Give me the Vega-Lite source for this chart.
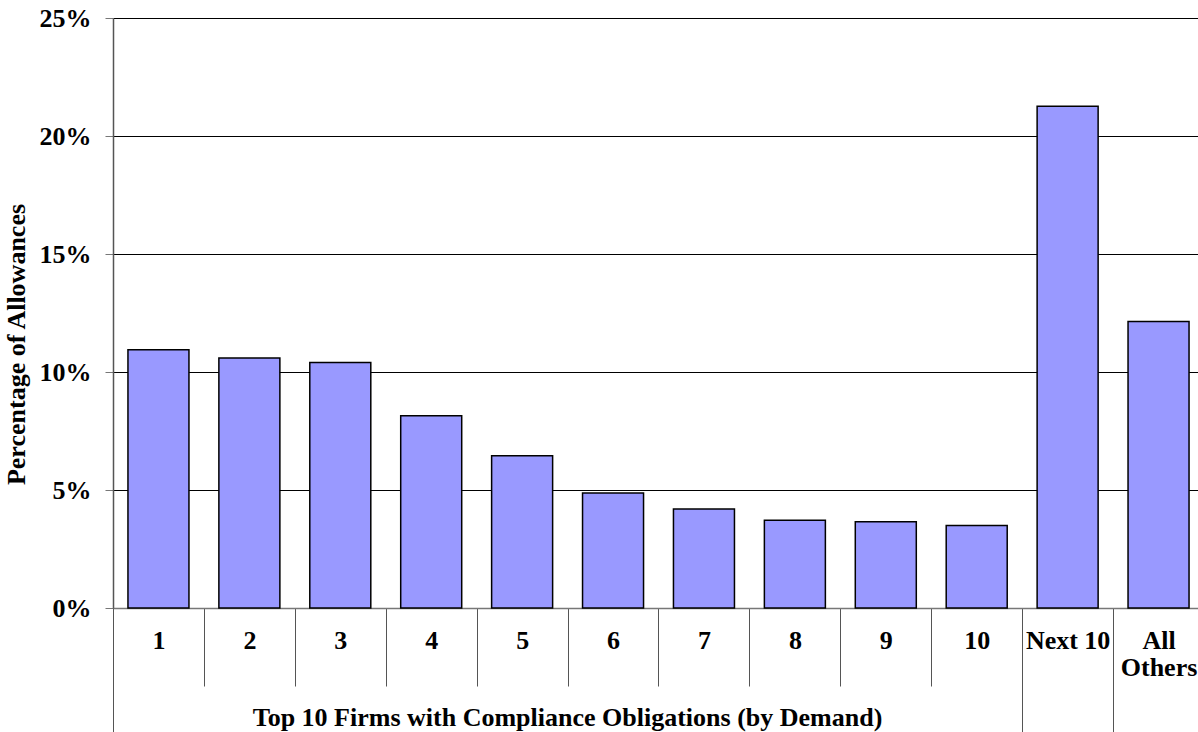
{
  "$schema": "https://vega.github.io/schema/vega-lite/v6.json",
  "width": 1091,
  "height": 590,
  "autosize": {"type": "none"},
  "padding": {"left": 113, "top": 18, "right": -6, "bottom": 124},
  "background": "white",
  "config": {"view": {"stroke": null}, "font": "Liberation Serif"},
  "data": {
    "values": [
      {"group": "1", "pct": 10.94},
      {"group": "2", "pct": 10.59},
      {"group": "3", "pct": 10.40},
      {"group": "4", "pct": 8.15},
      {"group": "5", "pct": 6.45},
      {"group": "6", "pct": 4.87},
      {"group": "7", "pct": 4.19},
      {"group": "8", "pct": 3.72},
      {"group": "9", "pct": 3.65},
      {"group": "10", "pct": 3.50},
      {"group": "Next 10", "pct": 21.26},
      {"group": "All Others", "pct": 12.14}
    ]
  },
  "mark": {"type": "bar", "fill": "#9999ff", "stroke": "#000000", "strokeWidth": 1.5},
  "encoding": {
    "x": {
      "field": "group",
      "type": "nominal",
      "sort": null,
      "scale": {"paddingInner": 0.329, "paddingOuter": 0.1645},
      "axis": {
        "title": "Top 10 Firms with Compliance Obligations (by Demand)",
        "titleFont": "Liberation Serif",
        "titleFontSize": 26,
        "titleFontWeight": "bold",
        "titleColor": "#000",
        "titleX": 454,
        "titleY": 117,
        "titleBaseline": "alphabetic",
        "titleAlign": "center",
        "labelAngle": 0,
        "bandPosition": 0,
        "tickOffset": -14.96,
        "labelOffset": 14.96,
        "labelFont": "Liberation Serif",
        "labelFontSize": 26,
        "labelFontWeight": "bold",
        "labelColor": "#000",
        "labelBaseline": "top",
        "labelAlign": "center",
        "labelLineHeight": 27,
        "labelOverlap": false,
        "labelFlush": false,
        "labelBound": false,
        "labelLimit": 0,
        "labelExpr": "datum.value == 'All Others' ? ['All', 'Others'] : datum.value",
        "tickSize": {"condition": {"test": "datum.value == '1' || datum.value == 'Next 10' || datum.value == 'All Others'", "value": 124}, "value": 78},
        "labelPadding": {"condition": {"test": "datum.value == '1' || datum.value == 'Next 10' || datum.value == 'All Others'", "value": -105}, "value": -59},
        "tickColor": "#555555",
        "tickWidth": 1,
        "domainColor": "#777777",
        "domainWidth": 1.5
      }
    },
    "y": {
      "field": "pct",
      "type": "quantitative",
      "scale": {"domain": [0, 25], "nice": false},
      "axis": {
        "values": [0, 5, 10, 15, 20, 25],
        "labelExpr": "datum.value + '%'",
        "title": "Percentage of Allowances",
        "titleFont": "Liberation Serif",
        "titleFontSize": 26,
        "titleFontWeight": "bold",
        "titleColor": "#000",
        "titleY": 326,
        "titlePadding": 10,
        "labelFont": "Liberation Serif",
        "labelFontSize": 26,
        "labelFontWeight": "bold",
        "labelColor": "#000",
        "labelPadding": 14,
        "tickSize": 8,
        "tickColor": "#777777",
        "domainColor": "#555555",
        "domainWidth": 1.5,
        "grid": true,
        "gridColor": "#000000",
        "gridWidth": 1
      }
    }
  }
}
